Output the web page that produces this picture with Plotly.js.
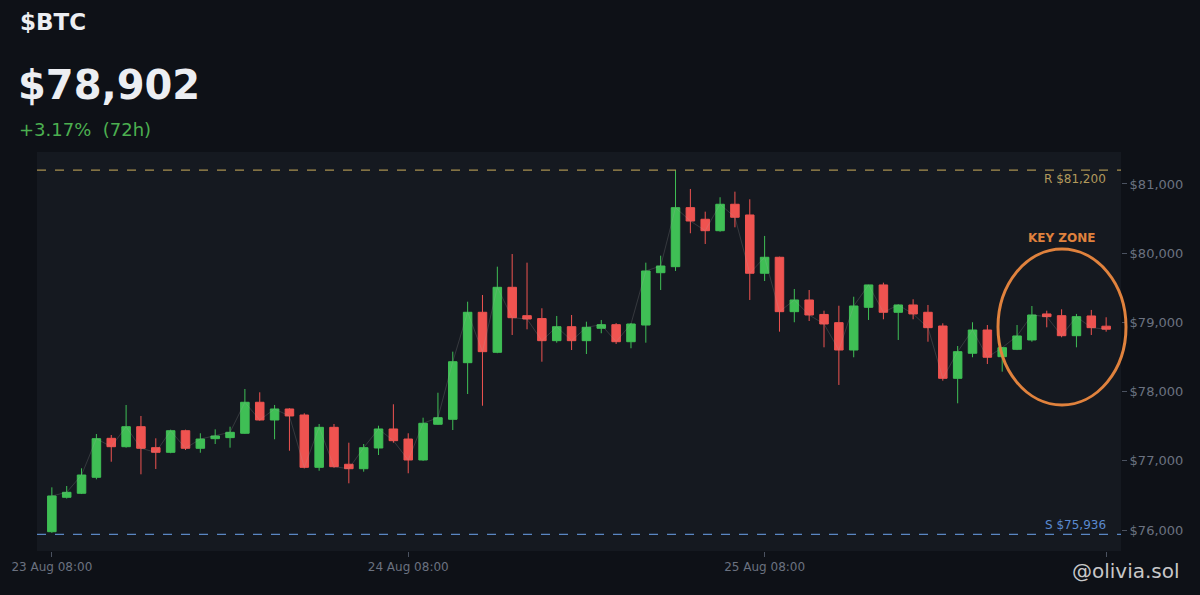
<!DOCTYPE html>
<html>
<head>
<meta charset="utf-8">
<script src="https://cdn.plot.ly/plotly-3.0.1.min.js"></script>
<style>
  html, body { margin: 0; padding: 0; background: #0e1117; }
  #chart { width: 1200px; height: 595px; }
</style>
</head>
<body>
<div id="chart"></div>
<script>
// ---- data ----
const startTime = '2025-08-23T08:00:00';   // first hourly candle
const openVals  = [75976,76473,76531,76762,77325,77204,77493,77190,77123,77435,77181,77320,77335,77398,77846,77590,77749,77662,76906,77484,76950,76886,77185,77460,77315,77012,77528,77600,78418,79146,78568,79507,79097,79055,78736,78938,78736,78915,78967,78721,78962,79718,79805,80658,80490,80325,80707,80552,79710,79941,79155,79324,79115,78996,78601,79218,79541,79146,79252,79146,78948,78192,78554,78890,78505,78611,78746,79122,79097,78808,79093,78945];
const highVals  = [76617,76636,76892,77387,77373,77807,77648,77325,77450,77450,77398,77455,77493,78038,77990,77807,77760,77687,77532,77532,77262,77243,77507,77817,77398,77623,77984,78577,79299,79396,79805,79988,79863,79204,79093,79107,79010,79035,78990,78990,79863,79964,81202,80928,80600,80808,80889,80779,80249,79950,79483,79468,79169,79241,79371,79545,79574,79260,79334,79252,78987,78659,79002,78962,78640,78962,79237,79169,79189,79122,79180,79074];
const lowVals   = [75960,76455,76520,76733,76987,77190,76805,76882,77110,77156,77117,77243,77190,77390,77580,77311,77146,76890,76857,76900,76675,76843,77084,77262,76820,77000,77520,77445,77965,77796,78555,78818,78900,78432,78707,78601,78543,78843,78688,78626,78707,79468,79743,80288,80133,80310,80374,79324,79598,78866,79002,79020,78640,78096,78496,79035,79045,78746,79045,78721,78158,77831,78496,78399,78288,78600,78721,78929,78785,78640,78818,78866];
const closeVals = [76492,76545,76795,77320,77204,77493,77181,77123,77435,77181,77315,77359,77412,77846,77590,77749,77648,76906,77484,76915,76886,77190,77460,77291,77012,77542,77623,78432,79146,78577,79507,79068,79049,78736,78938,78736,78929,78967,78721,78977,79743,79815,80658,80465,80325,80707,80519,79710,79941,79155,79324,79107,78977,78601,79237,79541,79146,79252,79122,78924,78192,78577,78890,78496,78635,78804,79107,79083,78808,79083,78924,78902];

const resistance = 81200;
const support = 75936;
const yTickVals = [76000,77000,78000,79000,80000,81000];
const yTickText = ['$76,000','$77,000','$78,000','$79,000','$80,000','$81,000'];
const xTickVals = ['2025-08-23 08:00','2025-08-24 08:00','2025-08-25 08:00','2025-08-26 07:00'];
const xTickText = ['23 Aug 08:00','24 Aug 08:00','25 Aug 08:00',''];
const xRange = ['2025-08-23 07:00','2025-08-26 08:00'];
const yRange = [75697, 81462];

// hourly timestamps
function fmt(d){
  const p = n => String(n).padStart(2,'0');
  return d.getFullYear()+'-'+p(d.getMonth()+1)+'-'+p(d.getDate())+' '+p(d.getHours())+':'+p(d.getMinutes());
}
const t0 = new Date(startTime);
const times = closeVals.map((_, i) => fmt(new Date(t0.getTime() + i*3600000)));

const GREEN = '#3fbf55';
const RED = '#ef5350';
const FONT = 'DejaVu Sans, sans-serif';

const traces = [
  {
    type: 'scatter', mode: 'lines', x: times, y: closeVals,
    line: {color: 'rgba(170,170,170,0.22)', width: 1},
    hoverinfo: 'skip', showlegend: false
  },
  {
    type: 'candlestick', x: times,
    open: openVals, high: highVals, low: lowVals, close: closeVals,
    increasing: {line: {color: GREEN, width: 1}, fillcolor: GREEN},
    decreasing: {line: {color: RED, width: 1}, fillcolor: RED},
    whiskerwidth: 0, showlegend: false, hoverinfo: 'skip'
  }
];

const L = 37, R = 1121, T = 152, B = 551;
const W = R - L, H = B - T;
const px = x => (x - L) / W;
const py = y => (B - y) / H;

const layout = {
  width: 1200, height: 595,
  paper_bgcolor: '#0e1117',
  plot_bgcolor: '#151920',
  margin: {l: L, r: 1200 - R, t: T, b: 595 - B, pad: 0},
  font: {family: FONT, color: '#6b7280'},
  showlegend: false,
  boxgap: 0.18,
  xaxis: {
    type: 'date', range: xRange,
    tickvals: xTickVals, ticktext: xTickText,
    ticks: 'outside', ticklen: 5, tickcolor: '#4b5260', tickwidth: 1,
    tickfont: {size: 12, color: '#6b7280', family: FONT},
    showgrid: false, zeroline: false, showline: false,
    rangeslider: {visible: false}, fixedrange: true
  },
  yaxis: {
    side: 'right', range: yRange,
    tickvals: yTickVals, ticktext: yTickText,
    ticks: 'outside', ticklen: 5, tickcolor: '#4b5260', tickwidth: 1,
    tickfont: {size: 13, color: '#6b7280', family: FONT},
    showgrid: false, zeroline: false, showline: false, fixedrange: true
  },
  shapes: [
    {type: 'line', xref: 'paper', x0: 0, x1: 1, yref: 'y', y0: resistance, y1: resistance,
     line: {color: '#a8904f', width: 1.2, dash: 'dash'}},
    {type: 'line', xref: 'paper', x0: 0, x1: 1, yref: 'y', y0: support, y1: support,
     line: {color: '#5a86c2', width: 1.2, dash: 'dash'}},
    {type: 'circle', xref: 'paper', yref: 'paper',
     x0: px(998), x1: px(1126), y0: py(405), y1: py(249),
     line: {color: '#e0823d', width: 3}, fillcolor: 'rgba(0,0,0,0)'}
  ],
  annotations: [
    {xref: 'paper', yref: 'paper', x: px(18), y: py(22), xanchor: 'left', yanchor: 'middle',
     text: '<b>$BTC</b>', showarrow: false, font: {size: 23, color: '#eceef2', family: FONT}},
    {xref: 'paper', yref: 'paper', x: px(16), y: py(85), xanchor: 'left', yanchor: 'middle',
     text: '<b>$78,902</b>', showarrow: false, font: {size: 40, color: '#eceef2', family: FONT}},
    {xref: 'paper', yref: 'paper', x: px(17), y: py(130), xanchor: 'left', yanchor: 'middle',
     text: '+3.17%\u00a0\u00a0(72h)', showarrow: false, font: {size: 18, color: '#4caf50', family: FONT}},
    {xref: 'paper', yref: 'y', x: px(1108), y: resistance, xanchor: 'right', yanchor: 'top',
     text: 'R $81,200', showarrow: false, font: {size: 12, color: '#b39a5c', family: FONT}},
    {xref: 'paper', yref: 'y', x: px(1108), y: support, xanchor: 'right', yanchor: 'bottom',
     text: 'S $75,936', showarrow: false, font: {size: 12, color: '#5a8ad0', family: FONT}},
    {xref: 'paper', yref: 'paper', x: px(1062), y: py(238), xanchor: 'center', yanchor: 'middle',
     text: '<b>KEY ZONE</b>', showarrow: false, font: {size: 12, color: '#e0823d', family: FONT}},
    {xref: 'paper', yref: 'paper', x: px(1182), y: py(571), xanchor: 'right', yanchor: 'middle',
     text: '@olivia.sol', showarrow: false, font: {size: 20, color: 'rgba(235,235,235,0.85)', family: FONT}}
  ]
};

Plotly.newPlot('chart', traces, layout, {displayModeBar: false, staticPlot: true});
</script>
</body>
</html>
